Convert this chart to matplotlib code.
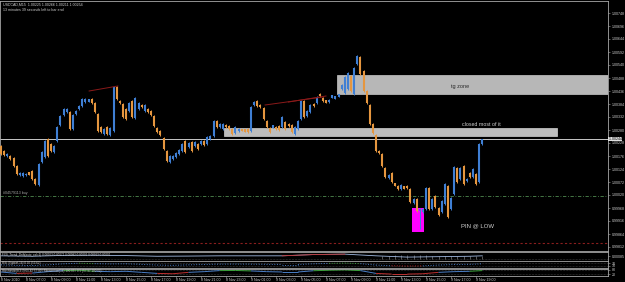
import matplotlib
matplotlib.use("Agg")
import matplotlib.pyplot as plt
import numpy as np
from matplotlib.patches import Rectangle
from matplotlib.collections import LineCollection

plt.rcParams['font.family'] = ['Liberation Sans', 'DejaVu Sans']

# USDCAD M15 bars
opens = [1.00216, 1.00196, 1.00176, 1.00176, 1.00168, 1.00136, 1.00100, 1.00096, 1.00100, 1.00112,
         1.00116, 1.00084, 1.00060, 1.00152, 1.00172, 1.00244, 1.00224, 1.00192, 1.00236, 1.00300,
         1.00340, 1.00352, 1.00352, 1.00284, 1.00344, 1.00364, 1.00376, 1.00392, 1.00392, 1.00404,
         1.00388, 1.00344, 1.00292, 1.00264, 1.00292, 1.00260, 1.00276, 1.00452, 1.00396, 1.00384,
         1.00364, 1.00356, 1.00396, 1.00328, 1.00364, 1.00380, 1.00356, 1.00364, 1.00356, 1.00336,
         1.00288, 1.00276, 1.00248, 1.00196, 1.00152, 1.00164, 1.00172, 1.00184, 1.00196, 1.00236,
         1.00212, 1.00232, 1.00216, 1.00224, 1.00224, 1.00236, 1.00224, 1.00244, 1.00256, 1.00316,
         1.00292, 1.00284, 1.00300, 1.00296, 1.00284, 1.00268, 1.00276, 1.00284, 1.00284, 1.00284,
         1.00276, 1.00380, 1.00396, 1.00380, 1.00368, 1.00316, 1.00288, 1.00288, 1.00292, 1.00296,
         1.00292, 1.00312, 1.00304, 1.00300, 1.00264, 1.00284, 1.00324, 1.00396, 1.00336, 1.00352,
         1.00384, 1.00388, 1.00424, 1.00408, 1.00400, 1.00392, 1.00408, 1.00404, 1.00412, 1.00444,
         1.00428, 1.00444, 1.00496, 1.00424, 1.00544, 1.00572, 1.00516, 1.00436, 1.00380, 1.00304,
         1.00260, 1.00196, 1.00184, 1.00128, 1.00088, 1.00108, 1.00068, 1.00056, 1.00044, 1.00056,
         1.00056, 1.00044, 0.99988, 1.00004, 0.99956, 0.99952, 0.99964, 1.00048, 0.99964, 1.00016,
         0.99968, 0.99952, 0.99984, 1.00056, 0.99964, 1.00024, 1.00128, 1.00084, 1.00136, 1.00076,
         1.00108, 1.00092, 1.00104, 1.00072, 1.00224]
highs = [1.00220, 1.00200, 1.00188, 1.00180, 1.00172, 1.00140, 1.00112, 1.00112, 1.00108, 1.00112,
         1.00120, 1.00088, 1.00148, 1.00196, 1.00240, 1.00248, 1.00228, 1.00220, 1.00296, 1.00340,
         1.00368, 1.00368, 1.00356, 1.00344, 1.00360, 1.00380, 1.00408, 1.00408, 1.00404, 1.00408,
         1.00392, 1.00348, 1.00296, 1.00288, 1.00296, 1.00292, 1.00456, 1.00456, 1.00400, 1.00388,
         1.00368, 1.00392, 1.00400, 1.00412, 1.00392, 1.00384, 1.00384, 1.00368, 1.00360, 1.00340,
         1.00292, 1.00280, 1.00252, 1.00200, 1.00180, 1.00180, 1.00192, 1.00204, 1.00228, 1.00240,
         1.00232, 1.00236, 1.00236, 1.00228, 1.00240, 1.00240, 1.00256, 1.00260, 1.00320, 1.00320,
         1.00308, 1.00308, 1.00304, 1.00300, 1.00288, 1.00296, 1.00288, 1.00284, 1.00284, 1.00288,
         1.00376, 1.00396, 1.00400, 1.00384, 1.00372, 1.00320, 1.00292, 1.00300, 1.00296, 1.00300,
         1.00336, 1.00316, 1.00308, 1.00304, 1.00296, 1.00320, 1.00400, 1.00400, 1.00360, 1.00384,
         1.00388, 1.00416, 1.00428, 1.00412, 1.00400, 1.00404, 1.00420, 1.00416, 1.00424, 1.00464,
         1.00496, 1.00512, 1.00500, 1.00532, 1.00580, 1.00576, 1.00520, 1.00440, 1.00384, 1.00308,
         1.00264, 1.00200, 1.00188, 1.00132, 1.00104, 1.00112, 1.00068, 1.00060, 1.00064, 1.00056,
         1.00060, 1.00048, 1.00008, 1.00008, 0.99968, 0.99968, 1.00052, 1.00052, 1.00008, 1.00020,
         0.99972, 1.00000, 1.00068, 1.00060, 1.00012, 1.00136, 1.00132, 1.00132, 1.00140, 1.00088,
         1.00112, 1.00128, 1.00108, 1.00228, 1.00244]
lows = [1.00180, 1.00176, 1.00172, 1.00160, 1.00132, 1.00100, 1.00096, 1.00092, 1.00096, 1.00100,
        1.00080, 1.00060, 1.00056, 1.00148, 1.00168, 1.00172, 1.00192, 1.00188, 1.00232, 1.00296,
        1.00336, 1.00348, 1.00280, 1.00280, 1.00340, 1.00360, 1.00372, 1.00388, 1.00392, 1.00384,
        1.00348, 1.00272, 1.00268, 1.00260, 1.00260, 1.00256, 1.00272, 1.00400, 1.00384, 1.00328,
        1.00320, 1.00352, 1.00328, 1.00324, 1.00360, 1.00368, 1.00352, 1.00348, 1.00336, 1.00292,
        1.00268, 1.00256, 1.00200, 1.00152, 1.00148, 1.00160, 1.00168, 1.00180, 1.00192, 1.00188,
        1.00208, 1.00192, 1.00212, 1.00200, 1.00220, 1.00216, 1.00220, 1.00240, 1.00252, 1.00288,
        1.00288, 1.00280, 1.00288, 1.00280, 1.00260, 1.00264, 1.00272, 1.00276, 1.00272, 1.00268,
        1.00272, 1.00376, 1.00372, 1.00368, 1.00320, 1.00288, 1.00268, 1.00288, 1.00280, 1.00276,
        1.00288, 1.00280, 1.00292, 1.00268, 1.00260, 1.00280, 1.00320, 1.00328, 1.00332, 1.00348,
        1.00372, 1.00384, 1.00412, 1.00392, 1.00388, 1.00388, 1.00408, 1.00404, 1.00412, 1.00440,
        1.00424, 1.00440, 1.00432, 1.00420, 1.00540, 1.00500, 1.00432, 1.00384, 1.00300, 1.00264,
        1.00192, 1.00184, 1.00132, 1.00088, 1.00084, 1.00068, 1.00056, 1.00040, 1.00040, 1.00044,
        1.00044, 0.99988, 0.99984, 0.99952, 0.99884, 0.99948, 0.99960, 0.99960, 0.99960, 0.99968,
        0.99936, 0.99948, 0.99980, 0.99928, 0.99960, 1.00020, 1.00068, 1.00080, 1.00060, 1.00072,
        1.00088, 1.00088, 1.00060, 1.00068, 1.00220]
closes = [1.00184, 1.00180, 1.00184, 1.00164, 1.00136, 1.00104, 1.00108, 1.00108, 1.00104, 1.00100,
          1.00084, 1.00064, 1.00144, 1.00192, 1.00236, 1.00176, 1.00196, 1.00216, 1.00292, 1.00336,
          1.00364, 1.00364, 1.00284, 1.00340, 1.00356, 1.00376, 1.00404, 1.00404, 1.00404, 1.00388,
          1.00352, 1.00276, 1.00272, 1.00284, 1.00264, 1.00288, 1.00452, 1.00404, 1.00388, 1.00332,
          1.00324, 1.00388, 1.00332, 1.00408, 1.00388, 1.00372, 1.00380, 1.00352, 1.00340, 1.00296,
          1.00272, 1.00260, 1.00204, 1.00156, 1.00176, 1.00176, 1.00188, 1.00200, 1.00224, 1.00192,
          1.00228, 1.00196, 1.00232, 1.00204, 1.00236, 1.00220, 1.00252, 1.00256, 1.00316, 1.00292,
          1.00304, 1.00304, 1.00292, 1.00284, 1.00264, 1.00292, 1.00284, 1.00276, 1.00272, 1.00272,
          1.00372, 1.00392, 1.00376, 1.00372, 1.00324, 1.00292, 1.00272, 1.00300, 1.00284, 1.00280,
          1.00332, 1.00284, 1.00296, 1.00272, 1.00292, 1.00316, 1.00396, 1.00332, 1.00356, 1.00380,
          1.00376, 1.00412, 1.00416, 1.00396, 1.00388, 1.00400, 1.00420, 1.00416, 1.00424, 1.00460,
          1.00492, 1.00508, 1.00436, 1.00528, 1.00576, 1.00504, 1.00436, 1.00388, 1.00304, 1.00268,
          1.00196, 1.00188, 1.00136, 1.00092, 1.00100, 1.00072, 1.00056, 1.00044, 1.00060, 1.00044,
          1.00048, 0.99992, 1.00004, 0.99956, 0.99964, 0.99964, 1.00048, 0.99964, 1.00004, 0.99972,
          0.99940, 0.99996, 1.00064, 0.99932, 1.00008, 1.00132, 1.00072, 1.00128, 1.00064, 1.00084,
          1.00092, 1.00124, 1.00064, 1.00224, 1.00244]

price_ticks = [1.00748, 1.00696, 1.00644, 1.00592, 1.00540, 1.00488, 1.00436, 1.00384, 1.00332, 1.00280,
               1.00228, 1.00176, 1.00124, 1.00072, 1.00020, 0.99968, 0.99916, 0.99864, 0.99812]
time_labels = ["8 Nov 2010", "8 Nov 07:00", "8 Nov 09:00", "8 Nov 11:00", "8 Nov 13:00",
               "8 Nov 15:00", "8 Nov 17:00", "8 Nov 19:00", "8 Nov 21:00", "8 Nov 23:00",
               "9 Nov 01:00", "9 Nov 03:00", "9 Nov 05:00", "9 Nov 07:00", "9 Nov 09:00",
               "9 Nov 11:00", "9 Nov 13:00", "9 Nov 15:00", "9 Nov 17:00", "9 Nov 19:00"]
bars_per_label = 8

bid = 1.00244
order_price = 1.00016
stop_price = 0.99828
tg_zone = [107.5, 1.00424, 1.00500]        # start bar, low, high (runs to right edge)
closed_zone = [71.4, 178.0, 1.00256, 1.00288]
pin_box = [131.5, 135.4, 0.99872, 0.99968]
trend_a = [[28.2, 37.4], [1.00436, 1.00456]]
trend_b = [[84.5, 103.0], [1.00380, 1.00412]]
trend_c = [[92.0, 104.0], [1.00392, 1.00416]]

# indicator windows (0..1 inside each window)
ind_bars = [0, 5, 10, 15, 20, 25, 30, 35, 40, 45, 50, 55, 60, 65, 70, 75, 80, 85, 90, 95,
            100, 105, 110, 115, 120, 125, 130, 135, 140, 145, 150, 154]
stoch_vals = [0.50, 0.30, 0.35, 0.55, 0.70, 0.75, 0.60, 0.55, 0.60, 0.45, 0.30, 0.25, 0.45, 0.55,
              0.70, 0.72, 0.65, 0.55, 0.50, 0.50, 0.68, 0.75, 0.80, 0.70, 0.30, 0.20, 0.20, 0.25,
              0.45, 0.55, 0.60, 0.70]
rsi_vals = [0.45, 0.38, 0.35, 0.45, 0.60, 0.68, 0.62, 0.58, 0.60, 0.52, 0.42, 0.38, 0.45, 0.50,
            0.55, 0.56, 0.55, 0.52, 0.50, 0.50, 0.60, 0.66, 0.70, 0.62, 0.42, 0.32, 0.28, 0.30,
            0.42, 0.50, 0.52, 0.60]
trend_bars = [0, 10, 20, 30, 40, 50, 60, 70, 80, 90, 100, 110, 120, 130, 140, 150, 154]
trend_vals = [0.55, 0.50, 0.60, 0.62, 0.58, 0.50, 0.52, 0.55, 0.55, 0.55, 0.70, 0.75, 0.55, 0.40,
              0.45, 0.50, 0.55]
hist_bars = [122, 124, 126, 128, 130, 132, 134, 136, 138, 140, 142, 144, 146, 148, 150, 152, 154]
hist_vals = [0.30, 0.35, 0.40, 0.42, 0.45, 0.45, 0.42, 0.40, 0.38, 0.35, 0.32, 0.30, 0.28, 0.30,
             0.32, 0.30, 0.28]

W, H = 625, 282
BLUE = '#3f7fd4'
ORANGE = '#e5963f'
GREY = '#a8a8a8'
TXT = '#d0d0d0'
FS = 2.6


def px_box(x0, y0, x1, y1):
    return [x0 / W, 1 - y1 / H, (x1 - x0) / W, (y1 - y0) / H]


fig = plt.figure(figsize=(W / 100, H / 100), dpi=100, facecolor='black')
ax = fig.add_axes(px_box(0, 1, 608, 251))
s1 = fig.add_axes(px_box(0, 252, 608, 260.5))
s2 = fig.add_axes(px_box(0, 261, 608, 268))
s3 = fig.add_axes(px_box(0, 268.5, 608, 275.5))

xlim = (-0.32, 194.24)
for a in (ax, s1, s2, s3):
    a.set_facecolor('black')
    a.set_xlim(*xlim)
    for sp in a.spines.values():
        sp.set_color(GREY)
        sp.set_linewidth(0.6)
    a.tick_params(colors=GREY, labelcolor=TXT, labelsize=FS, length=1.5, width=0.4, pad=1)
    a.yaxis.tick_right()
    a.set_xticks([])

# ---- main window ----
x = np.arange(len(opens))
o = np.array(opens)
c = np.array(closes)
cols = [BLUE if cc >= oo else ORANGE for oo, cc in zip(o, c)]
ax.vlines(x, lows, highs, colors=cols, lw=0.7, zorder=3)
ax.vlines(x, np.minimum(o, c), np.maximum(o, c), colors=cols, lw=1.5, zorder=3)

ax.add_patch(Rectangle((tg_zone[0], tg_zone[1]), xlim[1] - tg_zone[0], tg_zone[2] - tg_zone[1],
                       facecolor='#b7b7b7', edgecolor='#c8c8c8', lw=0.5, zorder=1))
ax.add_patch(Rectangle((closed_zone[0], closed_zone[2]), closed_zone[1] - closed_zone[0],
                       closed_zone[3] - closed_zone[2],
                       facecolor='#bdbdbd', edgecolor='#d0d0d0', lw=0.5, zorder=1))
ax.add_patch(Rectangle((pin_box[0], pin_box[2]), pin_box[1] - pin_box[0], pin_box[3] - pin_box[2],
                       facecolor='#ff00ff', edgecolor='none', zorder=2))

ax.axhline(bid, color='#c8c8c8', lw=0.7, zorder=2)
ax.axhline(order_price, color='#4f8a4f', lw=0.6, ls=(0, (4, 2, 1, 2)), zorder=2)
ax.axhline(stop_price, color='#8a1e1e', lw=0.8, ls=(0, (2, 2)), zorder=2)

for tl in (trend_a, trend_b, trend_c):
    ax.plot(tl[0], tl[1], color='#8b1a1a', lw=0.7, zorder=4)

ax.text(144.0, 1.00452, "tg zone", color='#2a2a2a', fontsize=4, va='center', zorder=5)
ax.text(147.5, 1.00304, "closed most of it", color=TXT, fontsize=3.8, va='center', zorder=5)
ax.text(147.2, 0.99896, "PIN @ LOW", color=TXT, fontsize=4.3, va='center', zorder=5)
ax.text(0.5, order_price + 0.00004, "#04579113 buy", color=GREY, fontsize=FS, va='bottom', zorder=5)

ax.text(3 / 608, 1 - 2 / 250, "USDCAD,M15  1.00225 1.00266 1.00211 1.00254", transform=ax.transAxes,
        color=TXT, fontsize=FS, va='top')
ax.text(3 / 608, 1 - 7 / 250, "13 minutes 39 seconds left to bar end", transform=ax.transAxes,
        color=TXT, fontsize=FS, va='top')

ax.set_ylim(0.99796, 1.00796)
ax.set_yticks(price_ticks)
ax.set_yticklabels([f"{p:.5f}" for p in price_ticks])
ax.text(1.0, bid, f" {bid:.5f}", transform=ax.get_yaxis_transform(), color='black', fontsize=FS,
        va='center', ha='left', clip_on=False,
        bbox=dict(boxstyle='square,pad=0.1', facecolor='#e0e0e0', edgecolor='none'))

# ---- indicator windows ----
s1.set_ylim(0, 1)
s1.vlines(hist_bars, 0.2, np.array(hist_vals) + 0.2, colors='#9a9a9a', lw=0.4)
s1.plot(trend_bars, trend_vals, color='#9fb8e0', lw=0.6)
s1.plot(trend_bars[9:12], trend_vals[9:12], color='#c03030', lw=0.6)
s1.axhline(0.2, color='#707070', lw=0.4, ls=':')
s1.text(2 / 608, 0.92, "FXS_Trend_Drift(auto_cal=1) 0.00063 0.00071 0.00082 0.00001 0.00013 0.00001",
        transform=s1.transAxes, color=TXT, fontsize=FS - 0.4, va='top')
s1.set_yticks([0.5])
s1.set_yticklabels(["0.00085"])


def coloured(axis, xs, ys, ls):
    pts = np.column_stack([xs, ys])
    segs = np.stack([pts[:-1], pts[1:]], axis=1)
    mids = (np.array(ys[:-1]) + np.array(ys[1:])) / 2
    seg_cols = ['#3aa03a' if m > 0.64 else '#c03030' if m < 0.36 else '#4a7fc8' for m in mids]
    axis.add_collection(LineCollection(segs, colors=seg_cols, lw=0.7, linestyles=ls))


s2.set_ylim(0, 1)
for lvl in (0.3, 0.7):
    s2.axhline(lvl, color='#6a6a6a', lw=0.4, ls=':')
coloured(s2, ind_bars, rsi_vals, ':')
s2.text(2 / 608, 0.95, "RSI (Typical,14) 0.00 (53.62)", transform=s2.transAxes,
        color=TXT, fontsize=FS - 0.4, va='top')
s2.set_yticks([0.3, 0.7])
s2.set_yticklabels(["30", "70"])

s3.set_ylim(0, 1)
for lvl in (0.2, 0.8):
    s3.axhline(lvl, color='#6a6a6a', lw=0.4, ls=':')
coloured(s3, ind_bars, stoch_vals, '-')
s3.text(2 / 608, 0.95, "Stochastic(8,3,3) 61.42 57.80 / Momentum(14) 100.03 / 0.5 (57.97 100.02)",
        transform=s3.transAxes, color=TXT, fontsize=FS - 0.4, va='top')
s3.set_yticks([0.2, 0.8])
s3.set_yticklabels(["20", "80"])

# time axis under the last window
s3.set_xticks([i * bars_per_label for i in range(len(time_labels))])
s3.set_xticklabels(time_labels, ha='left')
s3.tick_params(axis='x', colors=GREY, labelcolor=TXT, labelsize=FS, length=1.5, width=0.4, pad=0.5)

fig.savefig("out.png", dpi=100, facecolor='black')
